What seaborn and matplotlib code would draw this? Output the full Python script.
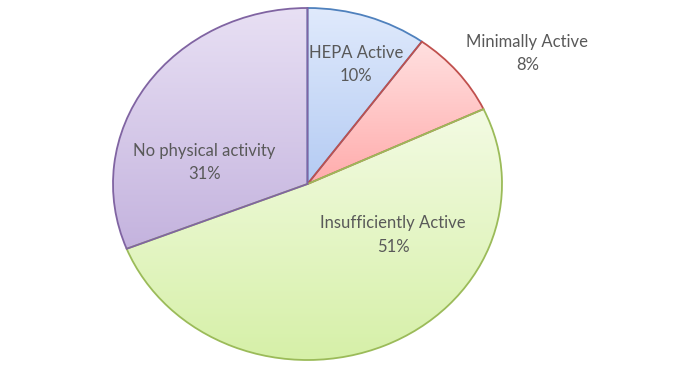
import numpy as np
import matplotlib.pyplot as plt
import seaborn as sns
from matplotlib.colors import LinearSegmentedColormap

sns.set_style("white")
plt.rcParams['font.family'] = ['Lato', 'DejaVu Sans']

# data
categories = ['HEPA Active', 'Minimally Active', 'Insufficiently Active', 'No physical activity']
shares = [10, 8, 51, 31]
top_colors = ['#e0eafc', '#ffe0e0', '#f3fbe3', '#e8e0f4']
bottom_colors = ['#b4cbf3', '#ffacac', '#d6f0a8', '#c4b3de']
edge_colors = ['#4f81bd', '#c0504d', '#9bbb59', '#8064a2']
# label positions (axes data units, pie radius = 1)
label_pos = [(0.25, 0.68), (1.13, 0.74), (0.44, -0.29), (-0.53, 0.12)]

fig = plt.figure(figsize=(7, 3.68), dpi=100)
ax = fig.add_axes([113 / 700, 8 / 368, 389 / 700, 352 / 368])

wedges, _ = ax.pie(shares, startangle=90, counterclock=False, radius=1,
                   colors=['none'] * 4,
                   wedgeprops=dict(linewidth=1.3, zorder=3))
ax.set_aspect('auto')
ax.set_xlim(-1.0, 1.0)
ax.set_ylim(-1.0, 1.0)

# vertical gradient fill per slice
grad = np.linspace(0, 1, 256).reshape(-1, 1)
for w, ec, c0, c1 in zip(wedges, edge_colors, top_colors, bottom_colors):
    w.set_edgecolor(ec)
    w.set_facecolor('none')
    ext = w.get_path().get_extents()
    cmap = LinearSegmentedColormap.from_list('g', [c0, c1])
    im = ax.imshow(grad, cmap=cmap, aspect='auto', origin='upper',
                   extent=[ext.x0, ext.x1, ext.y0, ext.y1], zorder=2)
    im.set_clip_path(w)

for name, val, (x, y) in zip(categories, shares, label_pos):
    ax.text(x, y, f'{name}\n{val}%', ha='center', va='center',
            fontsize=12, color='#595959', linespacing=1.55, zorder=5)

ax.set_xlim(-1.0, 1.0)
ax.set_ylim(-1.0, 1.0)
ax.axis('off')
fig.savefig('out.png', dpi=100)
